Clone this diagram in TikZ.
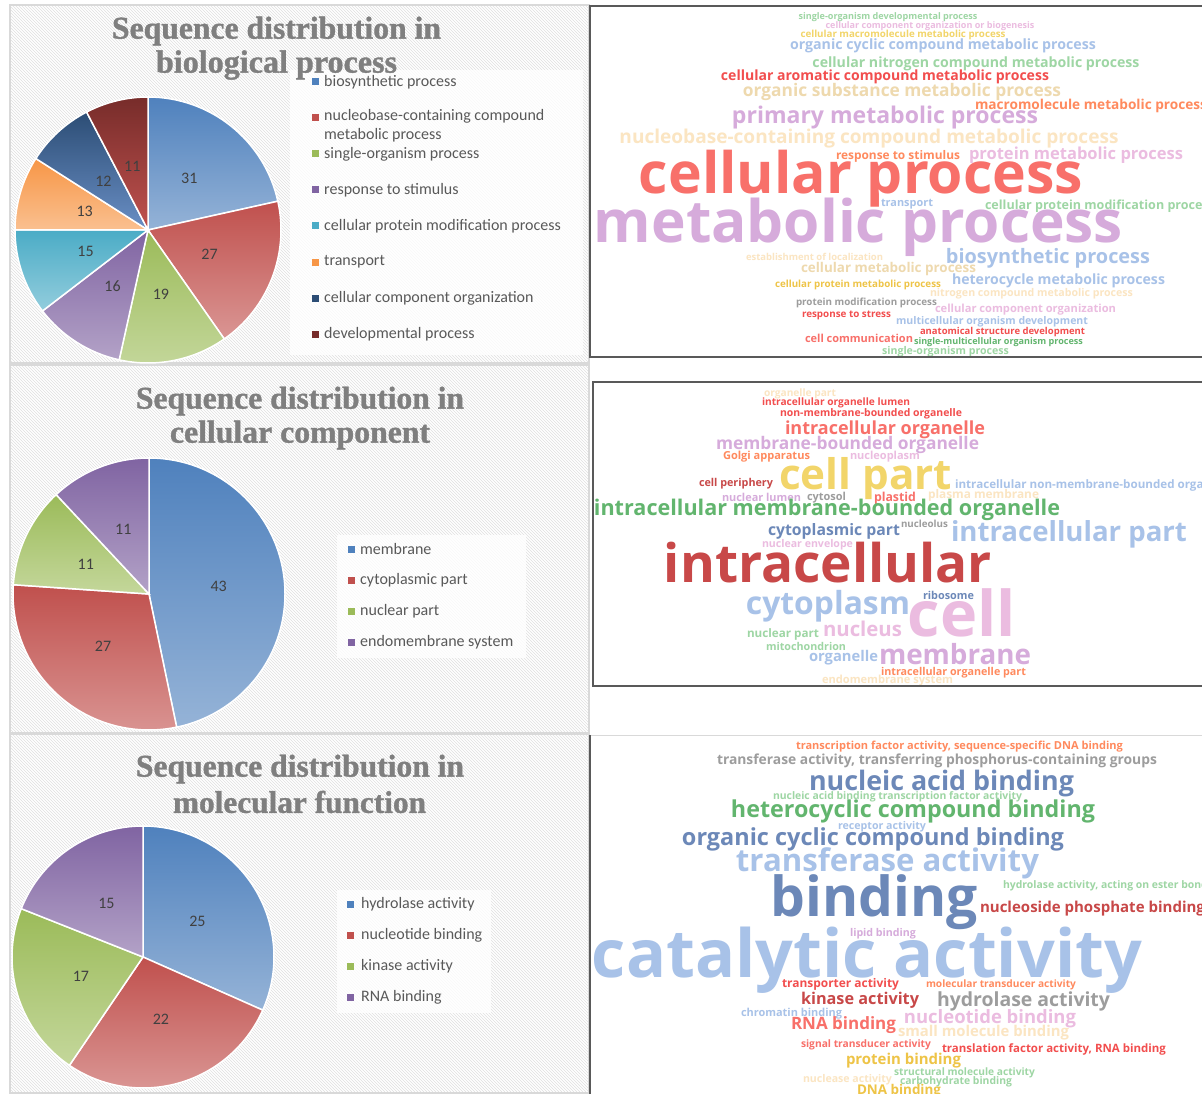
\documentclass[tikz,border=0pt]{standalone}
\usepackage{fontspec}
\usepackage{graphicx}
\usetikzlibrary{patterns,calc}
\newfontfamily\cloudfont{Open Sans}
\newfontfamily\legendfont{Carlito}
\newfontfamily\titlefont{Liberation Serif}[BoldFeatures={FakeBold=1.2}]

% pie colours (top / bottom of the gradient)
\definecolor{pBlue}{HTML}{4F81BD}   \definecolor{pBlueL}{HTML}{95B3D7}
\definecolor{pRed}{HTML}{C0504D}    \definecolor{pRedL}{HTML}{DA9694}
\definecolor{pGreen}{HTML}{9BBB59}  \definecolor{pGreenL}{HTML}{C4D79B}
\definecolor{pPurple}{HTML}{8064A2} \definecolor{pPurpleL}{HTML}{B3A2C7}
\definecolor{pAqua}{HTML}{4BACC6}   \definecolor{pAquaL}{HTML}{93CDDD}
\definecolor{pOrange}{HTML}{F79646} \definecolor{pOrangeL}{HTML}{FAC090}
\definecolor{pNavy}{HTML}{2C4D75}   \definecolor{pNavyL}{HTML}{6A8FC5}
\definecolor{pMaroon}{HTML}{772C2A} \definecolor{pMaroonL}{HTML}{C0524F}
% word cloud colours
\definecolor{cSalmon}{HTML}{F8706A}
\definecolor{cLavender}{HTML}{D6ABDB}
\definecolor{cBeige}{HTML}{EED9AE}
\definecolor{cPale}{HTML}{FBE5C2}
\definecolor{cLBlue}{HTML}{A8C2E8}
\definecolor{cLGreen}{HTML}{9ED6A4}
\definecolor{cRed}{HTML}{F24E4E}
\definecolor{cCoral}{HTML}{FF8A5E}
\definecolor{cPink}{HTML}{EBBCE0}
\definecolor{cYellow}{HTML}{F2D56A}
\definecolor{cGold}{HTML}{EEC447}
\definecolor{cGray}{HTML}{9D9D9D}
\definecolor{cDRed}{HTML}{C84848}
\definecolor{cGreen}{HTML}{62B56E}
\definecolor{cSlate}{HTML}{6C88B8}
\definecolor{panelgray}{HTML}{D9D9D9}
\definecolor{titlegray}{HTML}{7F7F7F}
\definecolor{labelgray}{HTML}{404040}
\definecolor{legendgray}{HTML}{595959}

\tikzset{
  panel/.style={draw=panelgray, line width=1.5pt},
  hatch/.style={pattern=north west lines, pattern color=black!12},
  cloudbox/.style={draw=black!65, line width=1.2pt},
  cloudword/.style={inner sep=0pt, outer sep=0pt, yshift=-1.5pt, font=\cloudfont\bfseries},
  bigword/.style={inner sep=0pt, outer sep=0pt, anchor=base, font=\cloudfont\bfseries},
  charttitle/.style={inner sep=0pt, yshift=-3pt, text=titlegray, font=\titlefont\bfseries},
  slice/.style={draw=white, line width=1.5pt},
  slicelabel/.style={inner sep=0pt, text=labelgray, font=\legendfont\fontsize{16}{19}\selectfont},
  legendtext/.style={inner sep=0pt, anchor=west, text=legendgray, font=\legendfont\fontsize{16}{19}\selectfont}
}

\begin{document}
\begin{tikzpicture}[x=1pt, y=-1pt]
  \useasboundingbox (0,0) rectangle (1202,1094);
  \fill[white] (0,0) rectangle (1202,1094);

  % chart panels
  \foreach \top/\bot in {5/363, 365/733, 734/1093} {
    \fill[white] (10,\top) rectangle (589,\bot);
    \fill[hatch] (10,\top) rectangle (589,\bot);
    \draw[panel] (10,\top) rectangle (589,\bot);
  }
  \fill[white, opacity=0.8] (290,70) rectangle (583,355);
  \fill[white, opacity=0.8] (337,535) rectangle (526,658);
  \fill[white, opacity=0.8] (337,890) rectangle (491,1013);

  % titles
  \node[charttitle] (bpTitleA) at (276.5,28) {\resizebox{329pt}{!}{Sequence distribution in}};
  \node[charttitle] (bpTitleB) at (276.5,62) {\resizebox{241pt}{!}{biological process}};
  \node[charttitle] (ccTitleA) at (300,398) {\resizebox{328pt}{!}{Sequence distribution in}};
  \node[charttitle] (ccTitleB) at (300,432) {\resizebox{260pt}{!}{cellular component}};
  \node[charttitle] (mfTitleA) at (300,766) {\resizebox{328pt}{!}{Sequence distribution in}};
  \node[charttitle] (mfTitleB) at (299.5,799) {\resizebox{253pt}{!}{molecular function}};

  % biological process pie
  \coordinate (bpPie) at (148,230);
  \foreach \a/\b/\v/\ct/\cb in {-90/-12.5/31/pBlue/pBlueL, -12.5/55/27/pRed/pRedL,
      55/102.5/19/pGreen/pGreenL, 102.5/142.5/16/pPurple/pPurpleL, 142.5/180/15/pAqua/pAquaL,
      180/212.5/13/pOrange/pOrangeL, 212.5/242.5/12/pNavy/pNavyL, 242.5/270/11/pMaroon/pMaroonL} {
    \shade[slice, top color=\ct, bottom color=\cb] (bpPie) -- ++(\a:133) arc[start angle=\a, end angle=\b, radius=133] -- cycle;
    \node[slicelabel] at ($(bpPie)+({(\a+\b)/2}:66)$) {\v};
  }
  \foreach \y/\c/\t in {82/pBlue/biosynthetic process, 154/pGreen/single-organism process,
      190/pPurple/response to stimulus, 226/pAqua/cellular protein modification process,
      262/pOrange/transport, 298/pNavy/cellular component organization, 334/pMaroon/developmental process} {
    \fill[\c] (312,\y-3.5) rectangle ++(7,7);
    \node[legendtext] at (324,\y) {\t};
  }
  \fill[pRed] (312,114.5) rectangle ++(7,7);
  \node[legendtext, anchor=north west, align=left] at (324,109) {nucleobase-containing compound\\metabolic process};

  % cellular component pie
  \coordinate (ccPie) at (149,594);
  \foreach \a/\b/\v/\ct/\cb in {-90/78.26/43/pBlue/pBlueL, 78.26/183.91/27/pRed/pRedL,
      183.91/226.96/11/pGreen/pGreenL, 226.96/270/11/pPurple/pPurpleL} {
    \shade[slice, top color=\ct, bottom color=\cb] (ccPie) -- ++(\a:136) arc[start angle=\a, end angle=\b, radius=136] -- cycle;
    \node[slicelabel] at ($(ccPie)+({(\a+\b)/2}:70)$) {\v};
  }
  \foreach \y/\c/\t in {549/pBlue/membrane, 580/pRed/cytoplasmic part, 611/pGreen/nuclear part, 642/pPurple/endomembrane system} {
    \fill[\c] (348,\y-3.5) rectangle ++(7,7);
    \node[legendtext] at (360,\y) {\t};
  }

  % molecular function pie
  \coordinate (mfPie) at (143,957);
  \foreach \a/\b/\v/\ct/\cb in {-90/23.92/25/pBlue/pBlueL, 23.92/124.18/22/pRed/pRedL,
      124.18/201.65/17/pGreen/pGreenL, 201.65/270/15/pPurple/pPurpleL} {
    \shade[slice, top color=\ct, bottom color=\cb] (mfPie) -- ++(\a:131) arc[start angle=\a, end angle=\b, radius=131] -- cycle;
    \node[slicelabel] at ($(mfPie)+({(\a+\b)/2}:65)$) {\v};
  }
  \foreach \y/\c/\t in {904/pBlue/hydrolase activity, 935/pRed/nucleotide binding, 966/pGreen/kinase activity, 997/pPurple/RNA binding} {
    \fill[\c] (347,\y-3.5) rectangle ++(7,7);
    \node[legendtext] at (361,\y) {\t};
  }

  % word cloud: biological process
  \begin{scope}
    \clip (590,6) rectangle (1202,357);
    \foreach \x/\y/\w/\c/\t in {888/16/179/cLGreen/single-organism developmental process,
        930/25/209/cPink/cellular component organization or biogenesis,
        903/33/205/cYellow/cellular macromolecule metabolic process,
        943/44/306/cLBlue/organic cyclic compound metabolic process,
        976/62/327/cLGreen/cellular nitrogen compound metabolic process,
        885/75/328/cRed/cellular aromatic compound metabolic process,
        902/90/318/cBeige/organic substance metabolic process,
        1091/104/232/cCoral/macromolecule metabolic process,
        885/116/306/cLavender/primary metabolic process,
        869/137/499/cPale/nucleobase-containing compound metabolic process,
        898/155/124/cCoral/response to stimulus,
        1076/154/214/cPink/protein metabolic process,
        907/203/52/cLBlue/transport,
        1100/205/230/cLGreen/cellular protein modification process,
        814.5/255/137/cPale/establishment of localization,
        1048/257/204/cLBlue/biosynthetic process,
        888.5/268/175/cBeige/cellular metabolic process,
        858/283/166/cGold/cellular protein metabolic process,
        1058.5/279/213/cLBlue/heterocycle metabolic process,
        1031.5/292/203/cPale/nitrogen compound metabolic process,
        866.5/301/141/cGray/protein modification process,
        1025.5/308/181/cPink/cellular component organization,
        846.5/314/89/cRed/response to stress,
        992/320/192/cLBlue/multicellular organism development,
        1002.5/331/165/cRed/anatomical structure development,
        859/337/108/cSalmon/cell communication,
        998.5/341/169/cGreen/single-multicellular organism process,
        945.5/350/127/cLGreen/single-organism process} {
      \node[cloudword, text=\c] at (\x,\y) {\resizebox{\w pt}{!}{\t}};
    }
    \foreach \x/\y/\w/\c/\t in {861/194/444/cSalmon/cellular process, 858.5/242/529/cLavender/metabolic process} {
      \node[bigword, text=\c] at (\x,\y) {\resizebox{\w pt}{!}{\t}};
    }
  \end{scope}
  \draw[cloudbox] (590,6) rectangle (1210,357);

  % word cloud: cellular component
  \begin{scope}
    \clip (593,382) rectangle (1202,686);
    \foreach \x/\y/\w/\c/\t in {800/392/72/cPale/organelle part,
        836/401/148/cRed/intracellular organelle lumen,
        871/412/182/cRed/non-membrane-bounded organelle,
        885/428/200/cSalmon/intracellular organelle,
        847.5/443/263/cLavender/membrane-bounded organelle,
        766.5/455/87/cCoral/Golgi apparatus,
        885/455/70/cPink/nucleoplasm,
        736/482/74/cDRed/cell periphery,
        1093.5/484/277/cLBlue/intracellular non-membrane-bounded organelle,
        761.5/496/79/cLavender/nuclear lumen,
        826.5/496/39/cGray/cytosol,
        895/497/42/cSalmon/plastid,
        983.5/494/111/cPale/plasma membrane,
        827/508/466/cGreen/intracellular membrane-bounded organelle,
        924.5/522/47/cGray/nucleolus,
        834/530/132/cSlate/cytoplasmic part,
        1069/533/236/cLBlue/intracellular part,
        807.5/543/91/cPink/nuclear envelope,
        948.5/594/51/cSlate/ribosome,
        828/605/164/cLBlue/cytoplasm,
        862.5/627/79/cPink/nucleus,
        783/633/72/cLGreen/nuclear part,
        806/645/80/cLGreen/mitochondrion,
        843.5/656/69/cLBlue/organelle,
        955/653/152/cLavender/membrane,
        953.5/671/145/cCoral/intracellular organelle part,
        887.5/679/131/cPale/endomembrane system} {
      \node[cloudword, text=\c] at (\x,\y) {\resizebox{\w pt}{!}{\t}};
    }
    \foreach \x/\y/\w/\c/\t in {865.5/489/173/cYellow/cell part, 828/582/328/cDRed/intracellular, 962/636/108/cPink/cell} {
      \node[bigword, text=\c] at (\x,\y) {\resizebox{\w pt}{!}{\t}};
    }
  \end{scope}
  \draw[cloudbox] (593,382) rectangle (1210,686);

  % word cloud: molecular function
  \begin{scope}
    \clip (590,735) rectangle (1202,1094);
    \foreach \x/\y/\w/\c/\t in {959.5/745/327/cCoral/{transcription factor activity, sequence-specific DNA binding},
        937/759/440/cGray/{transferase activity, transferring phosphorus-containing groups},
        941.5/782/265/cSlate/nucleic acid binding,
        897.5/795/249/cLGreen/nucleic acid binding transcription factor activity,
        913/810/364/cGreen/heterocyclic compound binding,
        882/825/88/cLBlue/receptor activity,
        873/838/382/cSlate/organic cyclic compound binding,
        887.5/862/303/cLBlue/transferase activity,
        1108/884/210/cLGreen/{hydrolase activity, acting on ester bonds},
        1092.5/907/225/cDRed/nucleoside phosphate binding,
        883/932/66/cLavender/lipid binding,
        840.5/983/117/cRed/transporter activity,
        1001/983/150/cCoral/molecular transducer activity,
        860/999/118/cDRed/kinase activity,
        1023.5/1000/173/cGray/hydrolase activity,
        791.5/1012/101/cLBlue/chromatin binding,
        990/1017/172/cPink/nucleotide binding,
        843.5/1024/105/cSalmon/RNA binding,
        983.5/1031/171/cPale/small molecule binding,
        866/1043/130/cSalmon/signal transducer activity,
        1054/1048/224/cRed/{translation factor activity, RNA binding},
        903.5/1059/115/cGold/protein binding,
        964.5/1071/141/cLGreen/structural molecule activity,
        847.5/1078/89/cPale/nuclease activity,
        956/1080/112/cLGreen/carbohydrate binding,
        899/1090/84/cGold/DNA binding} {
      \node[cloudword, text=\c] at (\x,\y) {\resizebox{\w pt}{!}{\t}};
    }
    \foreach \x/\y/\w/\c/\t in {874.5/916/207/cSlate/binding, 867/977/550/cLBlue/catalytic activity} {
      \node[bigword, text=\c] at (\x,\y) {\resizebox{\w pt}{!}{\t}};
    }
  \end{scope}
  \draw[panelgray, line width=1pt] (590,735) -- (1202,735);
  \draw[cloudbox] (590,735) -- (590,1094);
\end{tikzpicture}
\end{document}
